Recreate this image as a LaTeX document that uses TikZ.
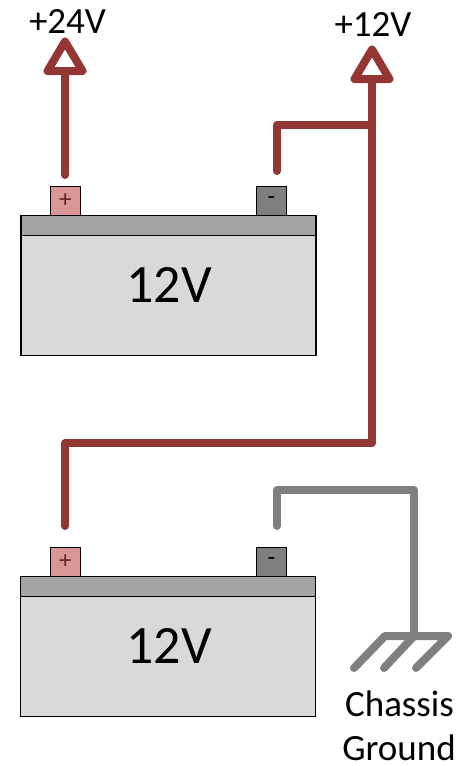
\documentclass[tikz,border=0pt]{standalone}
\usepackage{fontspec}
\setmainfont{Carlito}
\definecolor{wirered}{HTML}{943634}
\definecolor{wiregray}{HTML}{7F7F7F}
\definecolor{capgray}{HTML}{A5A5A5}
\definecolor{bodygray}{HTML}{D9D9D9}
\definecolor{pospink}{HTML}{D99694}
\definecolor{plusred}{HTML}{632423}
\tikzset{
  x=1pt,y=-1pt,
  batbody/.style={draw=black,line width=1.8pt,fill=bodygray,line join=miter,inner sep=0,minimum width=295pt,minimum height=140pt,anchor=north west},
  batcap/.style={draw=black,line width=1.8pt,fill=capgray,inner sep=0,minimum width=295pt,minimum height=20pt,anchor=north west},
  posterm/.style={draw=black,line width=1.8pt,fill=pospink,text=plusred,inner sep=0,minimum width=30pt,minimum height=29pt,anchor=north west,font=\fontsize{25}{27}\selectfont},
  negterm/.style={draw=black,line width=1.8pt,fill=wiregray,text=black,inner sep=0,minimum width=30pt,minimum height=29pt,anchor=north west,font=\fontsize{25}{27}\selectfont},
  batlabel/.style={font=\fontsize{54}{58}\selectfont,inner sep=0,text=black},
  redwire/.style={draw=wirered,line width=8pt,line cap=round,line join=round},
  graywire/.style={draw=wiregray,line width=8pt,line cap=round,line join=round},
  tip/.style={draw=wirered,fill=white,line width=8pt,line join=round},
  lbl/.style={font=\fontsize{37}{39}\selectfont,inner sep=0,text=black},
}
\begin{document}
\begin{tikzpicture}
\useasboundingbox (0,0) rectangle (460,766);
% top battery
\node[batbody] (b1) at (20,214.5) {};
\node[batcap] (c1) at (20,214.5) {};
\node[batlabel] (v1) at (169,285) {12V};
\node[posterm] (p1) at (49.5,185.5) {+};
\node[negterm] (n1) at (255.5,185.5) {-};
% bottom battery
\node[batbody] (b2) at (19.5,575.5) {};
\node[batcap] (c2) at (19.5,575.5) {};
\node[batlabel] (v2) at (169,646) {12V};
\node[posterm] (p2) at (49.5,546.5) {+};
\node[negterm] (n2) at (255.5,546.5) {-};
% coordinates
\coordinate (a24) at (65,71);
\coordinate (s1) at (65,175);
\coordinate (a12) at (372,79);
\coordinate (j) at (372,124.5);
\coordinate (k) at (277,124.5);
\coordinate (n1w) at (277,171);
\coordinate (m) at (372,443);
\coordinate (l) at (65,443);
\coordinate (p2w) at (65,526);
\coordinate (n2w) at (277,526);
\coordinate (g1) at (277,490);
\coordinate (g2) at (414,490);
\coordinate (g3) at (414,636);
\coordinate (gl) at (385,636);
\coordinate (gr) at (448,636);
\coordinate (gl2) at (354,668);
\coordinate (gm2) at (384,668);
\coordinate (gr2) at (416,668);
% wires
\draw[redwire] (s1) -- (a24);
\draw[tip] (47.5,71) -- (65,41.5) -- (82.5,71) -- cycle;
\draw[redwire] (p2w) -- (l) -- (m) -- (a12);
\draw[redwire] (n1w) -- (k) -- (j);
\draw[tip] (354.5,79) -- (372,49.5) -- (389.5,79) -- cycle;
\draw[graywire] (n2w) -- (g1) -- (g2) -- (g3);
\draw[graywire] (gl2) -- (gl) -- (gr) -- (gr2);
\draw[graywire] (g3) -- (gm2);
% labels
\node[lbl] (t24) at (67.5,21) {+24V};
\node[lbl] (t12) at (373,24) {+12V};
\node[lbl] (t3) at (399.5,704) {Chassis};
\node[lbl] (t4) at (399,747.5) {Ground};
\end{tikzpicture}
\end{document}
